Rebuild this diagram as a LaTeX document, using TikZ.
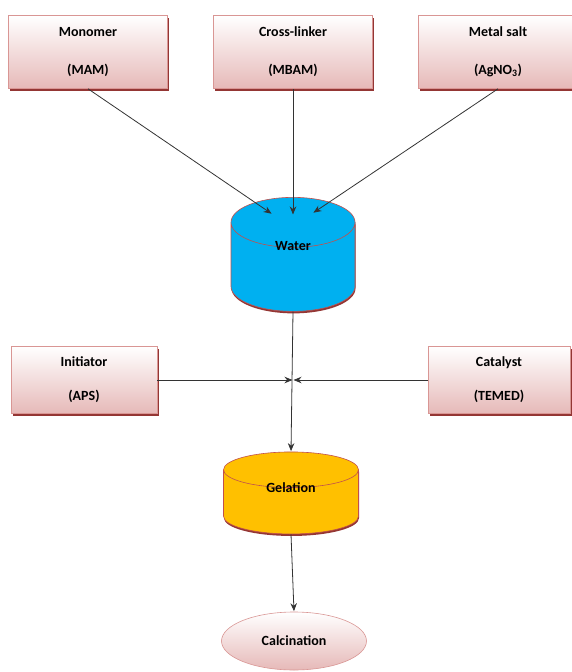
\documentclass[tikz,border=0pt]{standalone}
\usepackage{fontspec}
\setmainfont{Carlito}
\usetikzlibrary{shapes.geometric,shadows,arrows.meta}
\definecolor{boxpink}{HTML}{E6B9B8}
\definecolor{boxline}{HTML}{D99694}
\definecolor{shadowred}{HTML}{943634}
\definecolor{waterblue}{HTML}{00B0F0}
\definecolor{gelorange}{HTML}{FFC000}
\definecolor{tankline}{HTML}{C0504D}

\begin{document}
\begin{tikzpicture}[x=1pt,y=1pt,->,>={Stealth[length=8pt,width=6.5pt]},shorten >=0.5pt,node distance=205pt,
		line width=0.8pt,draw=black!80,
		base node/.style={rectangle,draw=boxline,line width=0.6pt,top color=white,bottom color=boxpink,
			drop shadow={shadow xshift=1.5pt,shadow yshift=-2pt,fill=shadowred,opacity=1},
			font=\bfseries\fontsize{14}{38}\selectfont,align=center,inner sep=0pt,
			minimum width=159pt,minimum height=73pt},
		tank node/.style={cylinder,shape border rotate=90,draw=tankline,line width=0.6pt,
			drop shadow={shadow xshift=0.5pt,shadow yshift=-2pt,fill=shadowred,opacity=1},
			font=\bfseries\fontsize{14}{16}\selectfont,inner sep=0pt,text height=10pt,text depth=3pt},
		end node/.style={ellipse,draw=boxline,line width=0.6pt,top color=white,bottom color=boxpink,
			font=\bfseries\fontsize{14}{16}\selectfont,minimum width=145pt,minimum height=58pt}]
		\useasboundingbox (0,0) rectangle (571,-672);
		% raw materials
		\node[base node] (mono) at (88,-52) {Monomer\\(MAM)};
		\node[base node] (cross) [right of=mono] {Cross-linker\\(MBAM)};
		\node[base node] (metal) [right of=cross] {Metal salt\\(AgNO\textsubscript{3})};
		\node[tank node,aspect=1.4,fill=waterblue,minimum width=124pt,minimum height=114pt] (water) at (293,-267) {\raisebox{20pt}{Water}};
		% additives
		\node[base node,font=\bfseries\fontsize{14}{34}\selectfont,minimum width=146pt,minimum height=67pt] (init) at (84,-380) {Initiator\\(APS)};
		\node[base node,font=\bfseries\fontsize{14}{34}\selectfont,minimum width=142pt,minimum height=67pt] (cat) at (499,-380) {Catalyst\\(TEMED)};
		\node[tank node,aspect=0.72,fill=gelorange,minimum width=135pt,minimum height=82pt] (gel) at (291,-502) {\raisebox{13.5pt}{Gelation}};
		\node[end node] (calc) at (294,-641) {Calcination};
		\coordinate (inL) at (272,-214);
		\coordinate (inM) at (293,-215);
		\coordinate (inR) at (313,-213);
		\coordinate (mix) at (water.south |- init.east);
		\path
		(mono.south) edge (inL)
		(cross.south) edge (inM)
		(metal.south) edge (inR)
		(init.east) edge (mix)
		(cat.west) edge (mix)
		(water.south) edge (gel.north)
		(gel.south) edge (calc.north);
\end{tikzpicture}
\end{document}
